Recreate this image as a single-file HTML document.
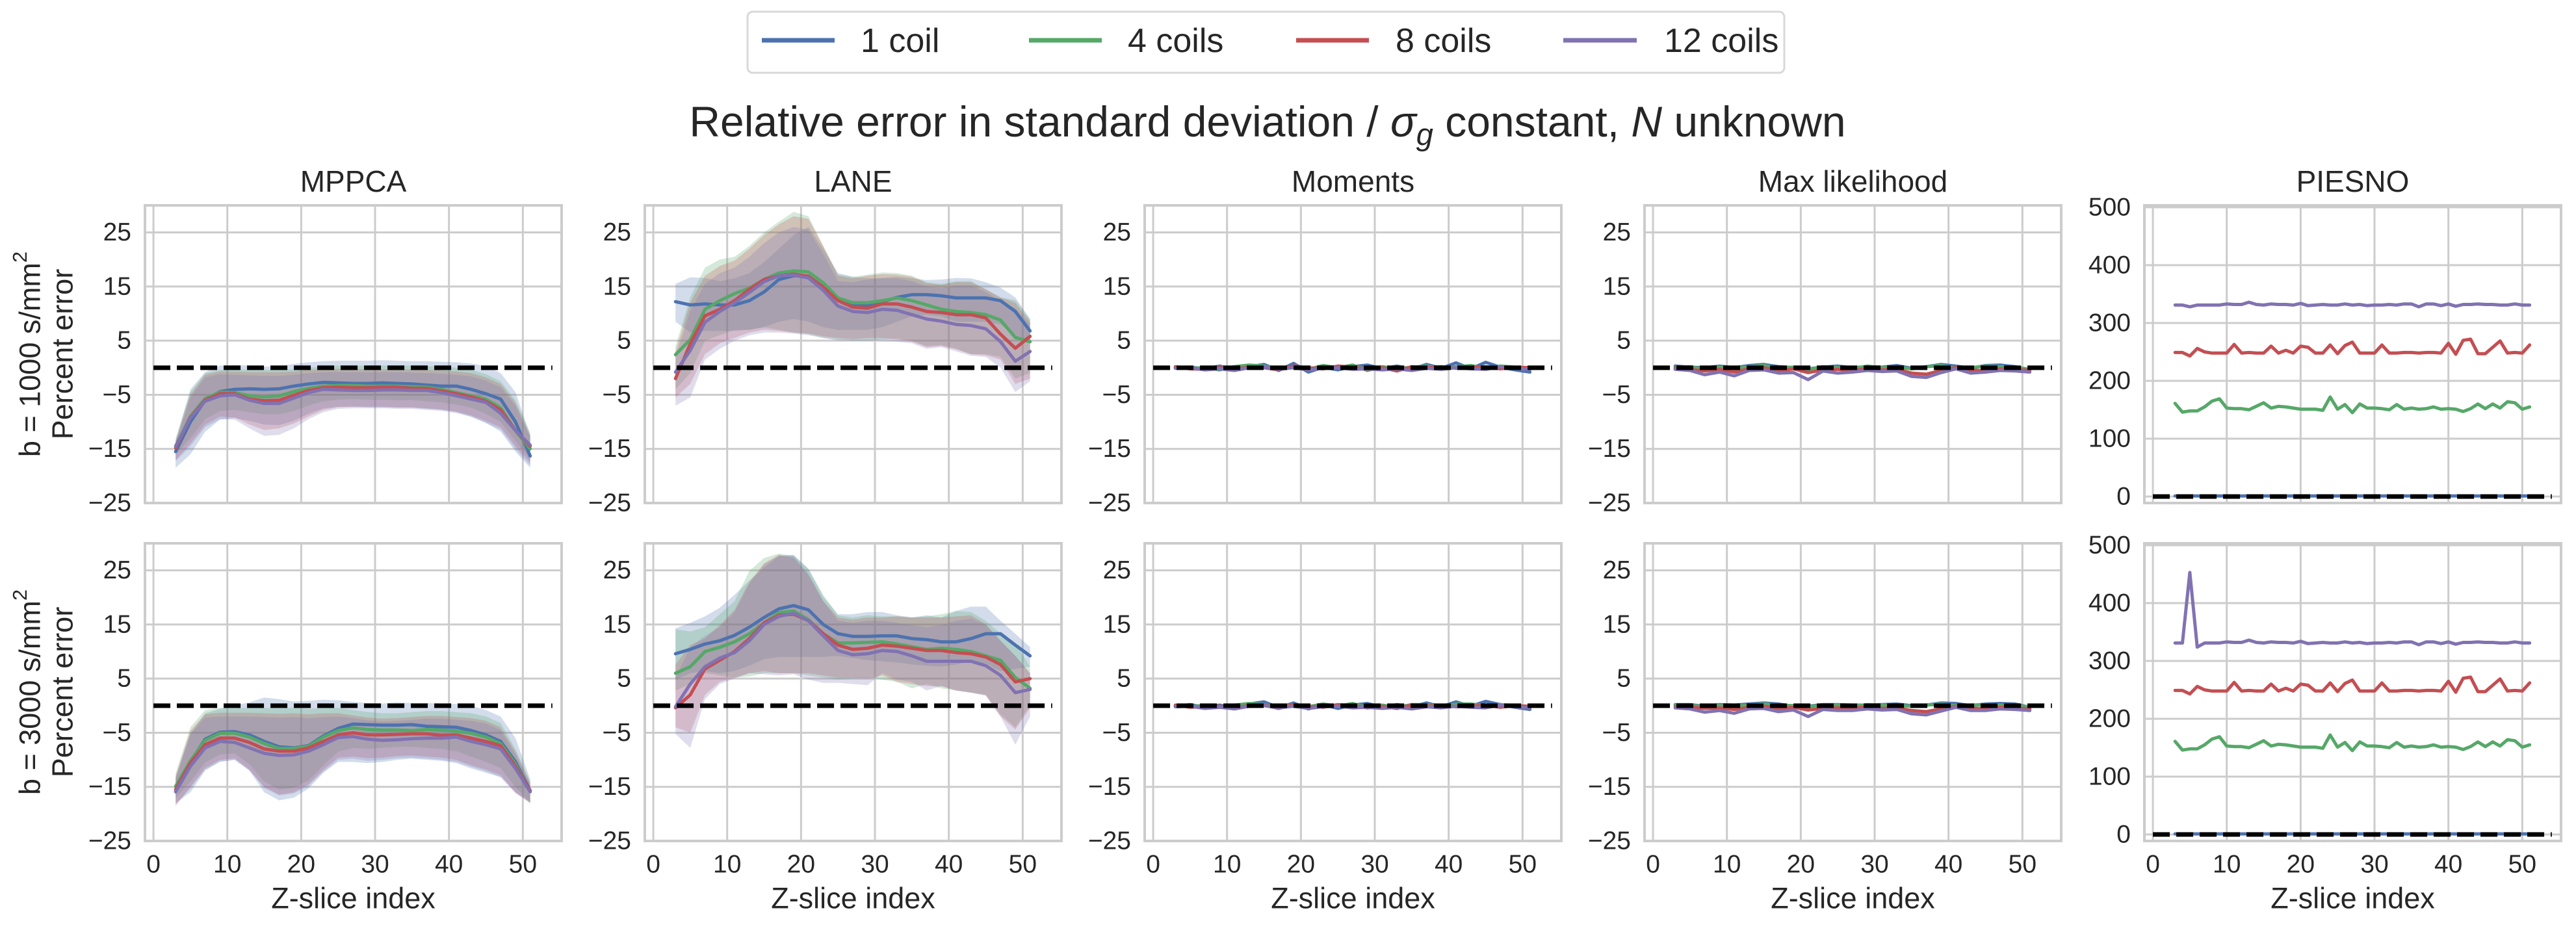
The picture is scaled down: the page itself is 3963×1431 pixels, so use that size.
<!DOCTYPE html>
<html><head><meta charset="utf-8"><style>
html,body{margin:0;padding:0;background:#fff;}
svg{display:block;font-family:"Liberation Sans",Arial,sans-serif;}
</style></head><body>
<svg id="fig" width="3963" height="1431" viewBox="0 0 3963 1431" xmlns="http://www.w3.org/2000/svg">
<rect width="3963" height="1431" fill="#fff"/>
<g id="legend">
<rect x="1150" y="18" width="1595" height="94" rx="8" fill="#fff" stroke="#d8d8d8" stroke-width="3"/>
<g><line x1="1172" y1="62" x2="1284" y2="62" stroke="#4c72b0" stroke-width="7"/><text x="1324" y="80" font-size="52" fill="#262626">1 coil</text></g>
<g><line x1="1583" y1="62" x2="1695" y2="62" stroke="#55a868" stroke-width="7"/><text x="1735" y="80" font-size="52" fill="#262626">4 coils</text></g>
<g><line x1="1994" y1="62" x2="2106" y2="62" stroke="#c44e52" stroke-width="7"/><text x="2147" y="80" font-size="52" fill="#262626">8 coils</text></g>
<g><line x1="2405" y1="62" x2="2518" y2="62" stroke="#8172b2" stroke-width="7"/><text x="2560" y="80" font-size="52" fill="#262626">12 coils</text></g>
</g>
<text x="1950" y="210" font-size="66" fill="#262626" text-anchor="middle">Relative error in standard deviation / <tspan font-style="italic">σ</tspan><tspan font-style="italic" font-size="47" dy="13">g</tspan><tspan dy="-13"> constant, </tspan><tspan font-style="italic">N</tspan> unknown</text>
<g id="plots"></g>
</svg>
<script>
// ---- data ----
const xs25 = [3,5,7,9,11,13,15,17,19,21,23,25,27,29,31,33,35,37,39,41,43,45,47,49,51];
const xs49 = [3,4,5,6,7,8,9,10,11,12,13,14,15,16,17,18,19,20,21,22,23,24,25,26,27,28,29,30,31,32,33,34,35,36,37,38,39,40,41,42,43,44,45,46,47,48,49,50,51];
const seriesNames = ["1 coil","4 coils","8 coils","12 coils"];
const colTitles = ["MPPCA","LANE","Moments","Max likelihood","PIESNO"];
const rowLabels = ["b = 1000 s/mm","b = 3000 s/mm"];
const yTicksPct = [-25,-15,-5,5,15,25];
const yTicksPiesno = [0,100,200,300,400,500];
const xTicks = [0,10,20,30,40,50];

// MPPCA b=1000
const mppca1Mean1 = [-15.5,-10,-6,-4.4,-4,-3.9,-4,-3.9,-3.4,-3,-2.7,-2.8,-2.9,-2.9,-2.8,-2.9,-3,-3.2,-3.4,-3.4,-4,-4.8,-5.8,-10,-16.3];
const mppca1Mean4 = [-14.5,-9,-5.7,-4.5,-4.6,-5.2,-5.4,-5.2,-4.4,-3.8,-3.4,-3.3,-3.3,-3.4,-3.4,-3.4,-3.5,-3.6,-4,-4.6,-5.2,-5.8,-7.4,-11.6,-15];
const mppca1Mean8 = [-14.8,-9.2,-6,-4.8,-4.8,-5.8,-6.1,-6,-5.1,-4.2,-3.7,-3.6,-3.7,-3.7,-3.6,-3.6,-3.8,-3.8,-4.3,-4.8,-5.4,-6.2,-7.8,-11.6,-14.5];
const mppca1Mean12 = [-14.5,-9.3,-6.2,-5.2,-5,-6,-6.6,-6.6,-5.6,-4.6,-4,-4.1,-4.2,-4.2,-4.1,-4.1,-4.2,-4.2,-4.6,-5.2,-5.8,-6.4,-8.4,-11.6,-14.3];
const mppca1Hi1 = [-13.5,-4,-0.8,0.4,0.5,0.4,0.2,0.3,0.7,1.0,1.2,1.3,1.3,1.3,1.4,1.3,1.2,1.2,1.1,1.0,0.8,0.3,-1.0,-4.5,-12.5];
const mppca1Hi4 = [-13,-4.5,-1,-0.4,-0.3,-0.4,-0.4,-0.4,-0.3,0,0.2,0.4,0.4,0.4,0.4,0.4,0.4,0.3,0.2,0,-0.4,-1.2,-2.5,-6,-12];
const mppca1Hi8 = [-13.5,-5,-1.3,-0.7,-0.7,-0.8,-0.8,-0.8,-0.7,-0.4,-0.3,-0.2,-0.2,-0.3,-0.3,-0.3,-0.3,-0.4,-0.5,-0.7,-1,-1.8,-3,-6.5,-12.5];
const mppca1Hi12 = [-14,-5.5,-1.8,-1.2,-1.3,-1.4,-1.5,-1.5,-1.3,-1,-0.8,-0.8,-0.8,-0.8,-0.8,-0.8,-0.9,-1,-1.1,-1.3,-1.6,-2.4,-3.6,-7,-12.8];
const mppca1Lo1 = [-18.5,-16,-11.8,-9.6,-9.3,-9.8,-10.5,-10.6,-9.8,-8.5,-7.5,-7.2,-7.2,-7.3,-7.3,-7.4,-7.4,-7.6,-7.8,-8.2,-9,-10.2,-11.8,-15.5,-18.5];
const mppca1Lo4 = [-16,-13,-9.5,-8,-7.8,-8.2,-8.6,-8.6,-8,-7,-6.2,-5.9,-5.8,-5.9,-5.9,-6,-6,-6.2,-6.4,-6.8,-7.4,-8.5,-10,-13.5,-17];
const mppca1Lo8 = [-17,-14,-10.5,-9,-9.2,-10.5,-11.5,-11.2,-10.3,-9,-7.8,-7.3,-7.2,-7.2,-7.2,-7.3,-7.3,-7.5,-7.7,-8.1,-8.8,-9.8,-11,-14.5,-17.5];
const mppca1Lo12 = [-17.3,-14.5,-11,-9.5,-9.6,-11.2,-12.6,-12.4,-11.2,-9.5,-8.2,-7.6,-7.5,-7.5,-7.5,-7.6,-7.6,-7.8,-8,-8.4,-9.1,-10.2,-11.4,-15,-18];
// MPPCA b=3000
const mppca3Mean1 = [-15.9,-10.4,-6.2,-4.9,-4.8,-5.4,-6.6,-7.6,-7.8,-7.4,-5.6,-4.2,-3.4,-3.5,-3.6,-3.6,-3.5,-3.8,-3.9,-4,-4.6,-5.4,-6.6,-10.4,-15.7];
const mppca3Mean4 = [-14.9,-10.2,-6.4,-5.1,-5.1,-5.8,-7,-7.9,-7.9,-7.5,-5.8,-4.6,-4.1,-4.4,-4.5,-4.5,-4.6,-4.4,-4.5,-4.7,-5.1,-5.8,-7,-10.8,-15.9];
const mppca3Mean8 = [-15.5,-10.6,-7.2,-6,-6,-6.8,-8,-8.4,-8.4,-7.8,-6.6,-5.4,-5,-5.4,-5.4,-5.3,-5.2,-5.2,-5.5,-5.4,-6,-6.6,-7.4,-11.2,-15.7];
const mppca3Mean12 = [-15.9,-11.2,-7.8,-6.6,-6.8,-7.8,-8.8,-9.2,-9.1,-8.4,-7.2,-5.9,-5.7,-6.2,-6.4,-6.3,-6.1,-6,-6,-5.8,-6.6,-7.2,-8,-11.6,-15.9];
const mppca3Hi1 = [-13.3,-5.2,-1.4,-0.6,0.1,0.6,1.5,1.2,0.8,0.9,1.1,1,0.7,0.5,0.4,0.6,0.5,0.5,0.4,0.3,0,-0.8,-2,-6,-13.6];
const mppca3Hi4 = [-12.5,-4,-0.8,-0.4,-0.5,-0.4,-0.4,-0.5,-0.4,-0.6,-0.4,-0.4,-0.8,-1.2,-1.4,-1.4,-1.2,-1,-1,-1.2,-1.4,-2,-3.2,-8,-14];
const mppca3Hi8 = [-13,-4.6,-1.6,-1.3,-1.3,-1.3,-1.4,-1.5,-1.4,-1.6,-1.4,-1.4,-1.8,-2.2,-2.4,-2.3,-2.1,-1.9,-1.9,-2.1,-2.3,-2.8,-4,-8.5,-14.3];
const mppca3Hi12 = [-13.5,-5.2,-2.2,-2,-2,-2,-2.1,-2.2,-2.1,-2.3,-2.1,-2,-2.3,-2.7,-2.9,-2.8,-2.6,-2.4,-2.4,-2.6,-2.8,-3.3,-4.5,-9,-14.6];
const mppca3Lo1 = [-18,-16,-12,-10.4,-10,-12,-16,-17.5,-17,-15.3,-12.4,-10.4,-10.4,-10.6,-10.4,-10,-9.8,-10,-10.2,-10.6,-11.6,-12.4,-13.2,-16,-17.8];
const mppca3Lo4 = [-17,-14,-10.5,-9,-8.8,-10.8,-14,-15.5,-15.2,-13.8,-11,-8.5,-7.8,-8,-7.8,-7.6,-7.6,-7.8,-8,-8.4,-9.4,-10.4,-11.5,-15,-18];
const mppca3Lo8 = [-18.5,-15,-11.5,-10,-9.7,-11.8,-15,-16.4,-16,-14.5,-11.8,-9.6,-9.4,-9.7,-9.6,-9.3,-9.2,-9.4,-9.6,-10,-11,-11.8,-12.8,-16,-18];
const mppca3Lo12 = [-18.3,-15.3,-11.8,-10.3,-10,-12,-15.2,-16.6,-16.2,-14.8,-12.2,-10,-9.8,-10.2,-10,-9.7,-9.6,-9.8,-10,-10.4,-11.3,-12.1,-13.2,-16.2,-18];
// LANE b=1000
const lane1Mean1 = [12.2,11.6,11.8,11.6,11.6,12.4,14,16.3,17,16.9,14.9,12.9,11.6,11.6,12.2,13,13.5,13.5,13.3,12.9,12.9,12.9,12.4,10.4,6.8];
const lane1Mean4 = [2.4,5.2,10.8,12.4,13.7,14.7,16.3,17.5,17.9,17.7,15.7,12.9,12,12,12.4,12.9,12.4,11.6,10.8,10.4,10.2,9.8,8.8,5.6,4.8];
const lane1Mean8 = [-2,4.4,9.6,10.8,12.4,14.5,16.3,17,17.3,16.9,14.9,12.4,11.2,11,11.8,11.8,11.2,10.4,10.2,9.8,9.8,9.2,6.2,3.6,5.8];
const lane1Mean12 = [-0.8,3.2,8.4,10.4,12,13.9,15.9,17,17.1,16.6,14.3,11.4,10.4,10.2,10.8,10.6,9.8,9,8.6,8,7.8,7.2,4.8,1.2,3];
const lane1Hi1 = [15.5,16.7,16.6,16,16.5,17.5,19.5,22,24.5,26,22,17.5,16.8,16.5,16.6,16.8,16.5,16.2,16.3,16.6,16.5,15.8,14.8,13,9];
const lane1Hi4 = [4,13,18.5,20,20.5,22.5,25,27,28.8,28,22.5,17.2,16.8,17.2,17.6,17.5,17,15.8,15.5,16,16,14.5,13,12.5,9];
const lane1Hi8 = [3,12,17,18.8,19.8,22,24.5,26.5,28,27.5,22.5,17,16.5,17,17.3,17.2,16.8,15.6,15.3,15.8,15.8,14.5,13,12,8.5];
const lane1Hi12 = [2,10.5,15.5,17.5,18.5,20.5,23,25,26,25.5,21,16,15.8,16.3,16.5,16.5,16,15,14.7,15.2,15.2,14,12.3,11,8];
const lane1Lo1 = [8.5,6.5,6.8,6.8,6.8,7,7.5,8.5,9,8.5,7.5,7,7,7,7.5,8.5,9.5,9.8,9.5,8.5,8.5,8.5,8,6,4.5];
const lane1Lo4 = [-4,-1,5,6,7,7,7.5,7,6.5,6.2,5.5,5.2,5,5,5.2,5.4,5,4,4.2,3.5,2.5,2.5,2,-2,-1];
const lane1Lo8 = [-5.5,-3,2.5,4.5,5.5,6.5,7,6.8,6.5,6.3,5.8,5.5,5.3,5.5,5.5,5.2,4.8,3.8,4,3.4,2.5,2.3,1.5,-3,-2];
const lane1Lo12 = [-7,-5.5,1.5,3.5,5,6,6.5,6.5,6.3,6,5.5,5,5,5,5,4.8,4.5,3.5,3.8,3,2.2,2,0,-4.5,-2.5];
// LANE b=3000
const lane3Mean1 = [9.6,10.4,11.4,12,13,14.5,16.3,17.9,18.5,17.7,15,13.3,12.8,12.8,12.9,12.9,12.4,12.2,11.8,11.8,12.4,13.3,13.3,11.2,9.2];
const lane3Mean4 = [6,7.2,10,10.8,11.8,13.3,15.3,17.2,17.5,15.9,13.3,11.6,11.6,11.7,11.8,11.4,10.9,10.4,10.6,10.4,10,9.2,8.4,5.2,3.2];
const lane3Mean8 = [-0.4,2,6.8,8.4,10,12.4,15.3,16.7,16.9,15.7,13.3,11.2,10.4,10.6,11.2,11,10.6,10.2,10.2,9.8,9.6,9,7.6,4.4,5];
const lane3Mean12 = [-0.2,4,7.2,8.8,9.8,12,15,16.5,17.1,15.7,12.9,10.2,9.4,9.6,10.2,10,9.2,8.2,8.2,8.2,8.2,7.4,5.6,2.4,3];
const lane3Hi1 = [14.3,15.3,16.5,18.1,20.5,23.1,25.5,27.7,27.9,25.3,20.1,16.9,16.9,17.3,17.3,16.7,16.3,16.7,16.3,17.5,18.3,18.3,15.7,13.3,10.8];
const lane3Hi4 = [14.1,13.7,14.5,16.9,19.3,24.9,27.3,28.1,27.7,25.3,20.5,16.7,16.3,16.7,16.5,16.5,16.3,16.5,16.9,17.5,17.3,15.7,13.3,11.6,7.2];
const lane3Hi8 = [7.6,11.2,12.4,14.9,17.7,22.9,26.3,27.9,27.3,24.1,19.3,16.3,15.9,16.3,16.3,16.5,16.3,16.3,16.3,16.5,16.7,15.1,12,9.2,6];
const lane3Hi12 = [5.2,10.8,12.9,14.5,17.3,22.5,26.1,27.7,27.7,24.4,19.3,15.7,15.3,15.7,15.7,15.3,14.9,14.5,14.9,15.7,16.1,14.9,12,9.2,6];
const lane3Lo1 = [4.8,6,6.4,6,6.4,7.4,8.6,9,9,9,9,9.2,8.8,8.4,8.2,8,7.6,7.4,7.2,7.6,8.2,7.8,6.4,6.8,7.2];
const lane3Lo4 = [2.8,4,6,5.6,5.2,5.4,6,6,6,5.6,5.2,4.8,5,5.2,4.8,4.4,3.2,4,3.2,2.8,2.4,2,-1.6,-4,0];
const lane3Lo8 = [-4,-5,2,4.4,5.2,6,6.4,6,6,6,5.6,5.2,5.2,5,5.6,4.4,4,3.6,3.6,2.8,2.4,2,-2,-4.4,-0.4];
const lane3Lo12 = [-5.2,-7.8,1.2,4,5,6,5.8,5.6,5.8,4.8,4.2,4.2,4,3.8,6,4.8,4.4,2.8,3.6,2.8,2.4,1.8,-2,-7.2,-2];
// Moments
const mom1Mean1 = [0,0.1,-0.2,0.3,-0.4,0.2,0.6,-0.5,0.8,-0.8,0.1,-0.4,0.2,0.5,-0.2,0.3,-0.3,0.6,-0.1,0.9,-0.2,1,0.1,-0.4,-0.8];
const mom1Mean4 = [0.1,-0.1,0,-0.4,0.2,0.5,0.3,-0.2,0.1,-0.3,0.4,0,0.5,-0.5,0.2,-0.2,0.1,0.3,-0.1,0.2,0.4,-0.1,0.3,0.1,-0.3];
const mom1Mean8 = [0.2,-0.2,-0.3,0,-0.3,0.1,0,-0.4,0.3,0,-0.2,0.3,0.1,-0.3,0,-0.6,0.2,0,0.2,-0.1,0,0.2,-0.2,0.1,0];
const mom1Mean12 = [-0.1,0,-0.4,-0.2,-0.5,0,0.1,-0.3,0,-0.4,-0.1,0,-0.3,-0.2,-0.4,-0.2,-0.5,-0.1,-0.3,0,-0.2,-0.3,0.2,-0.1,-0.3];
const mom3Mean1 = [-0.1,0.2,-0.3,0.1,-0.5,0.3,0.7,-0.4,0.5,-0.6,0.2,-0.5,0.1,0.4,-0.3,0.2,-0.2,0.5,-0.2,0.7,-0.1,0.8,0.2,-0.3,-0.7];
const mom3Mean4 = [0,-0.2,0.1,-0.3,0.1,0.4,0.2,-0.3,0.2,-0.2,0.3,-0.1,0.4,-0.4,0.1,-0.3,0.2,0.2,-0.2,0.3,0.3,0,0.2,0,-0.4];
const mom3Mean8 = [0.1,-0.3,-0.2,-0.1,-0.4,0,0.1,-0.5,0.2,-0.1,-0.3,0.2,0,-0.4,-0.1,-0.5,0.1,-0.1,0.1,-0.2,-0.1,0.1,-0.3,0,-0.1];
const mom3Mean12 = [-0.2,-0.1,-0.5,-0.3,-0.6,-0.1,0,-0.4,-0.1,-0.5,-0.2,-0.1,-0.4,-0.3,-0.5,-0.3,-0.6,-0.2,-0.4,-0.1,-0.3,-0.4,0.1,-0.2,-0.4];
// Max likelihood
const ml1Mean1 = [0.3,0.1,0,0.3,0,0.4,0.6,0.2,0,-0.2,0.1,0.3,0,0.2,0.1,0.4,-0.1,0.2,0.6,0.3,-0.1,0.4,0.5,0.2,-0.4];
const ml1Mean4 = [0,0.2,-0.3,0.1,-0.2,0.2,0.4,0,0.1,-0.3,0.2,0,-0.2,0.3,0,0.1,-0.2,0.2,0.4,-0.1,0,0.3,0.2,0.1,-0.3];
const ml1Mean8 = [-0.1,-0.3,-0.6,-0.3,-0.8,-0.2,0,-0.6,-0.2,-0.9,-0.4,-0.3,-0.5,-0.2,-0.4,-0.3,-1,-1.2,-0.5,0,-0.4,-0.6,-0.2,-0.3,-0.5];
const ml1Mean12 = [-0.3,-0.5,-1.3,-0.8,-1.5,-0.5,-0.4,-1,-0.9,-2.2,-0.6,-1,-0.8,-0.5,-0.7,-0.6,-1.6,-1.8,-0.9,-0.2,-1,-0.8,-0.5,-0.6,-0.8];
const ml3Mean1 = [0.2,0.2,-0.1,0.2,0.1,0.3,0.5,0.3,-0.1,-0.1,0.2,0.2,0.1,0.1,0.2,0.3,0,0.1,0.5,0.4,0,0.3,0.4,0.3,-0.3];
const ml3Mean4 = [0.1,0.1,-0.2,0,-0.1,0.1,0.3,0.1,0,-0.2,0.1,0.1,-0.1,0.2,0.1,0,-0.1,0.1,0.3,0,0.1,0.2,0.1,0,-0.2];
const ml3Mean8 = [-0.2,-0.2,-0.5,-0.4,-0.7,-0.3,-0.1,-0.5,-0.3,-0.8,-0.5,-0.4,-0.4,-0.3,-0.5,-0.4,-0.9,-1.1,-0.6,-0.1,-0.5,-0.5,-0.3,-0.4,-0.6];
const ml3Mean12 = [-0.4,-0.6,-1.2,-0.9,-1.4,-0.6,-0.5,-1.1,-0.8,-2,-0.7,-0.9,-0.9,-0.6,-0.8,-0.7,-1.5,-1.7,-1,-0.3,-0.9,-0.9,-0.6,-0.7,-0.9];
// PIESNO
const pie1Mean1 = [1,1,1,1,1,1,1,1,1,1,1,1,1,1,1,1,1,1,1,1,1,1,1,1,1,1,1,1,1,1,1,1,1,1,1,1,1,1,1,1,1,1,1,1,1,1,1,1,1];
const pie1Mean4 = [161,146,148,148,155,165,169,153,152,152,150,156,162,153,156,155,153,151,151,151,149,172,151,159,145,160,153,153,152,150,159,151,153,151,152,155,151,152,151,147,152,160,152,160,153,164,162,151,155];
const pie1Mean8 = [249,249,243,256,250,248,248,248,263,248,249,248,248,260,248,253,248,260,258,248,248,262,247,261,267,248,248,248,262,248,248,249,249,248,249,249,248,265,246,270,272,247,247,258,269,248,249,248,262];
const pie1Mean12 = [331,331,328,331,331,331,331,333,332,332,336,332,331,333,332,332,331,334,330,331,332,331,331,333,331,332,330,331,331,332,331,333,333,328,333,333,330,333,329,332,332,333,332,332,331,331,333,331,331];
const pie3Mean1 = [1,1,1,1,1,1,1,1,1,1,1,1,1,1,1,1,1,1,1,1,1,1,1,1,1,1,1,1,1,1,1,1,1,1,1,1,1,1,1,1,1,1,1,1,1,1,1,1,1];
const pie3Mean4 = [161,146,148,148,155,165,169,153,152,152,150,156,162,153,156,155,153,151,151,151,149,172,151,159,145,160,153,153,152,150,159,151,153,151,152,155,151,152,151,147,152,160,152,160,153,164,162,151,155];
const pie3Mean8 = [249,249,243,256,250,248,248,248,263,248,249,248,248,260,248,253,248,260,258,248,248,262,247,261,267,248,248,248,262,248,248,249,249,248,249,249,248,265,246,270,272,247,247,258,269,248,249,248,262];
const pie3Mean12 = [331,331,453,324,331,331,331,333,332,332,336,332,331,333,332,332,331,334,330,331,332,331,331,333,331,332,330,331,331,332,331,333,333,328,333,333,330,333,329,332,332,333,332,332,331,331,333,331,331];

// ---- rendering ----
const NS = "http://www.w3.org/2000/svg";
const COLORS = ["#4c72b0","#55a868","#c44e52","#8172b2"];
const LEFTS = [223,992,1761,2530,3299];
const TOPS = [316,836];
const PW = 641, PH = 458;
const XMIN = -1.15, XMAX = 55.25;
const plots = document.getElementById('plots');
function mk(tag, attrs, parent){const e=document.createElementNS(NS,tag);for(const k in attrs)e.setAttribute(k,attrs[k]);(parent||plots).appendChild(e);return e;}

const panels = [
 [ {xs:xs25,m:[mppca1Mean1,mppca1Mean4,mppca1Mean8,mppca1Mean12],hi:[mppca1Hi1,mppca1Hi4,mppca1Hi8,mppca1Hi12],lo:[mppca1Lo1,mppca1Lo4,mppca1Lo8,mppca1Lo12]},
   {xs:xs25,m:[lane1Mean1,lane1Mean4,lane1Mean8,lane1Mean12],hi:[lane1Hi1,lane1Hi4,lane1Hi8,lane1Hi12],lo:[lane1Lo1,lane1Lo4,lane1Lo8,lane1Lo12]},
   {xs:xs25,m:[mom1Mean1,mom1Mean4,mom1Mean8,mom1Mean12]},
   {xs:xs25,m:[ml1Mean1,ml1Mean4,ml1Mean8,ml1Mean12]},
   {xs:xs49,m:[pie1Mean1,pie1Mean4,pie1Mean8,pie1Mean12],pie:true} ],
 [ {xs:xs25,m:[mppca3Mean1,mppca3Mean4,mppca3Mean8,mppca3Mean12],hi:[mppca3Hi1,mppca3Hi4,mppca3Hi8,mppca3Hi12],lo:[mppca3Lo1,mppca3Lo4,mppca3Lo8,mppca3Lo12]},
   {xs:xs25,m:[lane3Mean1,lane3Mean4,lane3Mean8,lane3Mean12],hi:[lane3Hi1,lane3Hi4,lane3Hi8,lane3Hi12],lo:[lane3Lo1,lane3Lo4,lane3Lo8,lane3Lo12]},
   {xs:xs25,m:[mom3Mean1,mom3Mean4,mom3Mean8,mom3Mean12]},
   {xs:xs25,m:[ml3Mean1,ml3Mean4,ml3Mean8,ml3Mean12]},
   {xs:xs49,m:[pie3Mean1,pie3Mean4,pie3Mean8,pie3Mean12],pie:true} ]
];

const defs = mk('defs',{});
panels.forEach((row,r)=>{
  row.forEach((p,c)=>{
    const L=LEFTS[c], T=TOPS[r];
    const ymin = p.pie ? -11.2 : -25, ymax = p.pie ? 503.4 : 30;
    const sx = v => L + (v-XMIN)/(XMAX-XMIN)*PW;
    const sy = v => T + PH - (v-ymin)/(ymax-ymin)*PH;
    const g = mk('g',{});
    
    
    const cid='clip'+r+'_'+c;
    const cp=mk('clipPath',{id:cid},defs); mk('rect',{x:L,y:T,width:PW,height:PH},cp);
    const yt = p.pie ? yTicksPiesno : yTicksPct;
    yt.forEach(t=>{
      const ln=mk('line',{x1:L,x2:L+PW,y1:sy(t),y2:sy(t),stroke:'#cccccc','stroke-width':3},g);
      
      
      const tx=mk('text',{x:L-21,y:sy(t),'font-size':39,fill:'#262626','text-anchor':'end','dominant-baseline':'central'},g);
      tx.textContent = (t<0?'\u2212'+Math.abs(t):String(t));
      
      
    });
    xTicks.forEach(t=>{
      const ln=mk('line',{x1:sx(t),x2:sx(t),y1:T,y2:T+PH,stroke:'#cccccc','stroke-width':3},g);
      
      
      if(r===1){
        const tx=mk('text',{x:sx(t),y:1330,'font-size':39,fill:'#262626','text-anchor':'middle','dominant-baseline':'central'},g);
        tx.textContent=String(t);
        
        
      }
    });
    const cg = mk('g',{'clip-path':'url(#'+cid+')'},g);
    if(p.hi){
      for(let s=0;s<4;s++){
        let d='';
        p.xs.forEach((x,i)=>{d+=(i?'L':'M')+sx(x).toFixed(1)+','+sy(p.hi[s][i]).toFixed(1);});
        for(let i=p.xs.length-1;i>=0;i--){d+='L'+sx(p.xs[i]).toFixed(1)+','+sy(p.lo[s][i]).toFixed(1);}
        const b=mk('path',{d:d+'Z',fill:COLORS[s],'fill-opacity':0.25,stroke:'none'},cg);
        
        
      }
    }
    for(let s=0;s<4;s++){
      let d='';
      p.xs.forEach((x,i)=>{d+=(i?'L':'M')+sx(x).toFixed(1)+','+sy(p.m[s][i]).toFixed(1);});
      const pl=mk('path',{d:d,fill:'none',stroke:COLORS[s],'stroke-width':5,'stroke-linejoin':'round','stroke-linecap':'round'},cg);
      
      
    }
    const z=mk('line',{x1:sx(0),x2:sx(54),y1:sy(0),y2:sy(0),stroke:'#000','stroke-width':7,'stroke-dasharray':'26 10'},cg);
    
    
    const fr=mk('rect',{x:L,y:T,width:PW,height:PH,fill:'none',stroke:'#cccccc','stroke-width':4},g);
    
    
    if(r===0){
      const ti=mk('text',{x:L+PW/2,y:279,'font-size':46,fill:'#262626','text-anchor':'middle','dominant-baseline':'central'},g);
      ti.textContent=colTitles[c];
      
      
    } else {
      const xl=mk('text',{x:L+PW/2,y:1382,'font-size':45,fill:'#262626','text-anchor':'middle','dominant-baseline':'central'},g);
      xl.textContent='Z-slice index';
      
      
    }
  });
  const cy = TOPS[r]+PH/2;
  const yl=mk('text',{x:0,y:0,'font-size':45,fill:'#262626','text-anchor':'middle','dominant-baseline':'central',transform:'translate(46,'+cy+') rotate(-90)'});
  yl.textContent=rowLabels[r];
  const sup=mk('tspan',{'font-size':31,dy:-16},yl); sup.textContent='2';
  
  
  const yl2=mk('text',{x:0,y:0,'font-size':45,fill:'#262626','text-anchor':'middle','dominant-baseline':'central',transform:'translate(96,'+cy+') rotate(-90)'});
  yl2.textContent='Percent error';
  
  
});
</script>
</body></html>
